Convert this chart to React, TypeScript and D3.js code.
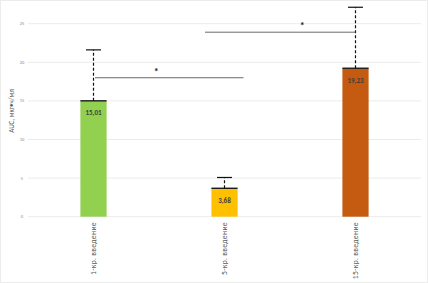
import React from "react";
import * as d3 from "d3";

const categories = ["1-кр. введение", "5-кр. введение", "15-кр. введение"];
const values = [15.01, 3.68, 19.23];
const errors = [6.6, 1.4, 7.9];
const valueLabels = ["15,01", "3,68", "19,23"];
const colors = ["#92D050", "#FFC000", "#C55A11"];
const yTicks = [0, 5, 10, 15, 20, 25];
const brackets = [
  { from: 0, to: 1, level: 18.0 },
  { from: 1, to: 2, level: 23.9 },
];

const W = 428;
const H = 283;

export default function App() {
  const x = d3.scaleBand<string>().domain(categories).range([28, 421]).paddingInner(0.8).paddingOuter(0.4);
  const y = d3.scaleLinear().domain([0, 25]).range([216.7, 23.7]);
  const bw = x.bandwidth();
  const cx = (i: number) => (x(categories[i]) as number) + bw / 2;

  return (
    <svg width={W} height={H} style={{ position: "fixed", top: 0, left: 0, background: "#fff" }} fontFamily="Calibri, Carlito, 'Liberation Sans', Arial, sans-serif">
      {yTicks.map((t) => (
        <g key={t}>
          <line x1={28} x2={421} y1={y(t)} y2={y(t)} stroke="#e6e6e6" strokeWidth={0.8} />
          <text x={22} y={y(t)} dy="0.35em" textAnchor="middle" fontSize={4.5} fill="#8c8c8c">{t}</text>
        </g>
      ))}
      <text transform={`translate(14,111) rotate(-90)`} textAnchor="middle" fontSize={7} fill="#595959">AUC, мкг•ч/мл</text>
      {categories.map((c, i) => (
        <g key={c}>
          <rect x={x(c)} y={y(values[i])} width={bw} height={y(0) - y(values[i])} fill={colors[i]} />
          <line x1={x(c)} x2={(x(c) as number) + bw} y1={y(values[i])} y2={y(values[i])} stroke="#1a1a1a" strokeWidth={1.4} />
          <line x1={cx(i)} x2={cx(i)} y1={y(values[i])} y2={y(values[i] + errors[i])} stroke="#111" strokeWidth={1.2} strokeDasharray="3,2" />
          <line x1={cx(i) - 7.5} x2={cx(i) + 7.5} y1={y(values[i] + errors[i])} y2={y(values[i] + errors[i])} stroke="#111" strokeWidth={1.2} />
          <text x={cx(i)} y={y(values[i]) + 14.5} textAnchor="middle" fontSize={7} fontWeight="bold" fill="#404040">{valueLabels[i]}</text>
          <text transform={`translate(${cx(i) + 2.8},222) rotate(-90)`} textAnchor="end" fontSize={7.6} letterSpacing={0.35} fill="#595959">{c}</text>
        </g>
      ))}
      {brackets.map((b, k) => {
        const x1 = k === 0 ? cx(b.from) + 1.5 : cx(b.from) - 19.5;
        const x2 = k === 0 ? cx(b.to) + 19 : cx(b.to);
        return (
          <g key={k}>
            <line x1={x1} x2={x2} y1={y(b.level)} y2={y(b.level)} stroke="#595959" strokeWidth={0.9} />
            <text x={(x1 + x2) / 2 + (k === 0 ? -13 : 22)} y={y(b.level) - 3} textAnchor="middle" fontSize={10} fontWeight="bold" fill="#222">*</text>
          </g>
        );
      })}
      <rect x={0.5} y={0.5} width={W - 1} height={H - 1} fill="none" stroke="#ececec" />
    </svg>
  );
}
